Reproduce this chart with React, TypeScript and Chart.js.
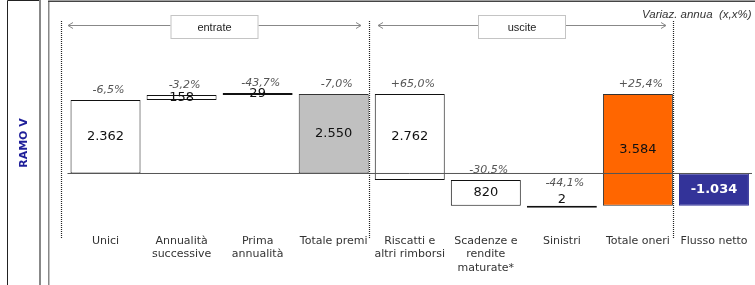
import React, { useEffect, useRef } from "react";
import { Chart, registerables } from "chart.js";

Chart.register(...registerables);

// ---- data ----
const categories: string[][] = [
  ["Unici"],
  ["Annualità", "successive"],
  ["Prima", "annualità"],
  ["Totale premi"],
  ["Riscatti e", "altri rimborsi"],
  ["Scadenze e", "rendite", "maturate*"],
  ["Sinistri"],
  ["Totale oneri"],
  ["Flusso netto"],
];
const amounts: number[] = [2362, 158, 29, 2550, 2762, 820, 2, 3584, -1034];
// add: stacks up from running total; total: drawn from zero; sub: steps down; span: drawn from running total upward
const stepKinds: string[] = ["add", "add", "add", "total", "sub", "sub", "sub", "span", "total"];
const changes: string[] = ["-6,5%", "-3,2%", "-43,7%", "-7,0%", "+65,0%", "-30,5%", "-44,1%", "+25,4%", ""];
const groupNames: string[] = ["entrate", "uscite"];
const groupBounds: number[][] = [[0, 3], [4, 7]];
const sideTitle = "RAMO V";
const noteText = "Variaz. annua  (x,x%)";

// ---- styles ----
const fills = ["#ffffff", "#ffffff", "#111111", "#c0c0c0", "#ffffff", "#ffffff", "#111111", "#ff6600", "#333399"];
const borders = ["#111", "#111", "#111", "#333", "#111", "#111", "#111", "#333", "#333399"];
const FONT = "'DejaVu Sans', Verdana, sans-serif";
const ARIAL = "'Liberation Sans', Arial, sans-serif";

function buildRanges(): number[][] {
  let run = 0;
  return amounts.map((v, i) => {
    const k = stepKinds[i];
    if (k === "add") { const r = [run, run + v]; run += v; return r; }
    if (k === "sub") { const r = [run, run - v]; run -= v; return r; }
    if (k === "span") { return [run, run + v]; }
    run = v;
    return [0, v];
  });
}

function fmt(n: number): string {
  const s = Math.abs(n).toString().replace(/\B(?=(\d{3})+(?!\d))/g, ".");
  return (n < 0 ? "-" : "") + s;
}

const overlay = {
  id: "overlay",
  beforeDraw(chart: any) {
    const ctx = chart.ctx;
    const W = chart.width, H = chart.height;
    ctx.save();
    ctx.fillStyle = "#fff";
    ctx.fillRect(0, 0, W, H);
    // left panel
    ctx.strokeStyle = "#222";
    ctx.lineWidth = 1;
    ctx.beginPath();
    ctx.moveTo(7.5, H);
    ctx.lineTo(7.5, 0.5);
    ctx.lineTo(40, 0.5);
    ctx.stroke();
    ctx.strokeStyle = "#888";
    ctx.lineWidth = 2;
    ctx.beginPath();
    ctx.moveTo(40, 0);
    ctx.lineTo(40, H);
    ctx.stroke();
    ctx.lineWidth = 1.5;
    ctx.beginPath();
    ctx.moveTo(48.75, H);
    ctx.lineTo(48.75, 1.25);
    ctx.stroke();
    ctx.strokeStyle = "#444";
    ctx.lineWidth = 1.5;
    ctx.beginPath();
    ctx.moveTo(48, 1.25);
    ctx.lineTo(W, 1.25);
    ctx.stroke();
    // side title
    ctx.translate(24, 143);
    ctx.rotate(-Math.PI / 2);
    ctx.font = `bold 11px ${FONT}`;
    ctx.fillStyle = "#1f1f99";
    ctx.textAlign = "center";
    ctx.textBaseline = "middle";
    ctx.fillText(sideTitle, 0, 0);
    ctx.restore();
  },
  afterDatasetsDraw(chart: any) {
    const ctx = chart.ctx;
    const ys = chart.scales.y;
    const meta = chart.getDatasetMeta(0);
    const bars = meta.data;
    ctx.save();
    // zero line
    const y0 = ys.getPixelForValue(0);
    ctx.strokeStyle = "#555";
    ctx.lineWidth = 1;
    ctx.beginPath();
    ctx.moveTo(chart.chartArea.left, y0);
    ctx.lineTo(chart.chartArea.right, y0);
    ctx.stroke();

    // dotted separators
    const half = bars[0].width / 2;
    const sepX = [
      Math.round(bars[groupBounds[0][0]].x - half - 10),
      Math.round(bars[groupBounds[0][1]].x + half),
      Math.round(bars[groupBounds[1][1]].x + half),
    ];
    ctx.strokeStyle = "#222";
    ctx.setLineDash([1, 1]);
    ctx.lineWidth = 1.2;
    sepX.forEach((x) => {
      ctx.beginPath();
      ctx.moveTo(x + 0.5, 21);
      ctx.lineTo(x + 0.5, 239);
      ctx.stroke();
    });
    ctx.setLineDash([]);

    // group arrows with boxes
    const spans = [
      [sepX[0] + 7, sepX[1] - 8],
      [sepX[1] + 9, sepX[2] - 7],
    ];
    const ay = 25.5;
    spans.forEach(([a, b], gi) => {
      ctx.strokeStyle = "#888";
      ctx.lineWidth = 1;
      ctx.beginPath();
      ctx.moveTo(a, ay);
      ctx.lineTo(b, ay);
      ctx.moveTo(a + 5, ay - 3);
      ctx.lineTo(a, ay);
      ctx.lineTo(a + 5, ay + 3);
      ctx.moveTo(b - 5, ay - 3);
      ctx.lineTo(b, ay);
      ctx.lineTo(b - 5, ay + 3);
      ctx.stroke();
      const cx = (a + b) / 2;
      ctx.fillStyle = "#fff";
      ctx.fillRect(cx - 44, 15, 88, 24);
      ctx.strokeStyle = "#c4c4c4";
      ctx.strokeRect(cx - 43.5, 15.5, 87, 23);
      ctx.fillStyle = "#222";
      ctx.font = `11px ${ARIAL}`;
      ctx.textAlign = "center";
      ctx.textBaseline = "middle";
      ctx.fillText(groupNames[gi], cx, 27.5);
    });

    // note
    ctx.font = `italic 11.5px ${ARIAL}`;
    ctx.fillStyle = "#333";
    ctx.textAlign = "left";
    ctx.textBaseline = "middle";
    ctx.fillText(noteText, 642, 15);

    // bar labels
    bars.forEach((bar: any, i: number) => {
      const top = Math.min(bar.y, bar.base);
      const bottom = Math.max(bar.y, bar.base);
      const tiny = bottom - top < 3;
      const below = top > y0;
      let vy = (top + bottom) / 2;
      let py = top - 10;
      if (tiny && below) {
        vy = top - 6;
        py = top - 22;
      }
      ctx.textAlign = "center";
      ctx.textBaseline = "middle";
      if (i === amounts.length - 1) {
        ctx.font = `bold 13px ${FONT}`;
        ctx.fillStyle = "#fff";
      } else {
        ctx.font = `13px ${FONT}`;
        ctx.fillStyle = "#111";
      }
      ctx.fillText(fmt(amounts[i]), bar.x, vy);
      if (changes[i]) {
        ctx.font = `italic 11px ${FONT}`;
        ctx.fillStyle = "#555";
        ctx.fillText(changes[i], bar.x + 3, py);
      }
    });
    ctx.restore();
  },
};

export default function App() {
  const ref = useRef<HTMLCanvasElement | null>(null);
  useEffect(() => {
    if (!ref.current) return;
    const ranges = buildRanges();
    const chart = new Chart(ref.current, {
      type: "bar",
      data: {
        labels: categories,
        datasets: [
          {
            data: ranges as any,
            backgroundColor: fills,
            borderColor: borders,
            borderWidth: 1,
            borderSkipped: false,
            minBarLength: 2,
            barPercentage: 0.92,
            categoryPercentage: 1,
          },
        ],
      },
      options: {
        responsive: false,
        animation: false,
        devicePixelRatio: 1,
        layout: { padding: { left: 67.5, right: 3, top: 20, bottom: 0 } },
        plugins: { legend: { display: false }, tooltip: { enabled: false } },
        scales: {
          x: {
            grid: { display: false, drawTicks: false },
            border: { display: false },
            ticks: {
              font: { family: FONT, size: 11, lineHeight: 1.23 },
              color: "#333",
              padding: 4,
              maxRotation: 0,
              autoSkip: false,
            },
            afterFit: (scale: any) => {
              scale.height = 55;
            },
          },
          y: {
            display: false,
            min: -1814,
            max: 4927,
          },
        },
      },
      plugins: [overlay],
    });
    return () => chart.destroy();
  }, []);
  return (
    <div style={{ position: "absolute", left: 0, top: 0, width: 755, height: 285 }}>
      <canvas ref={ref} width={755} height={285} style={{ display: "block" }} />
    </div>
  );
}
